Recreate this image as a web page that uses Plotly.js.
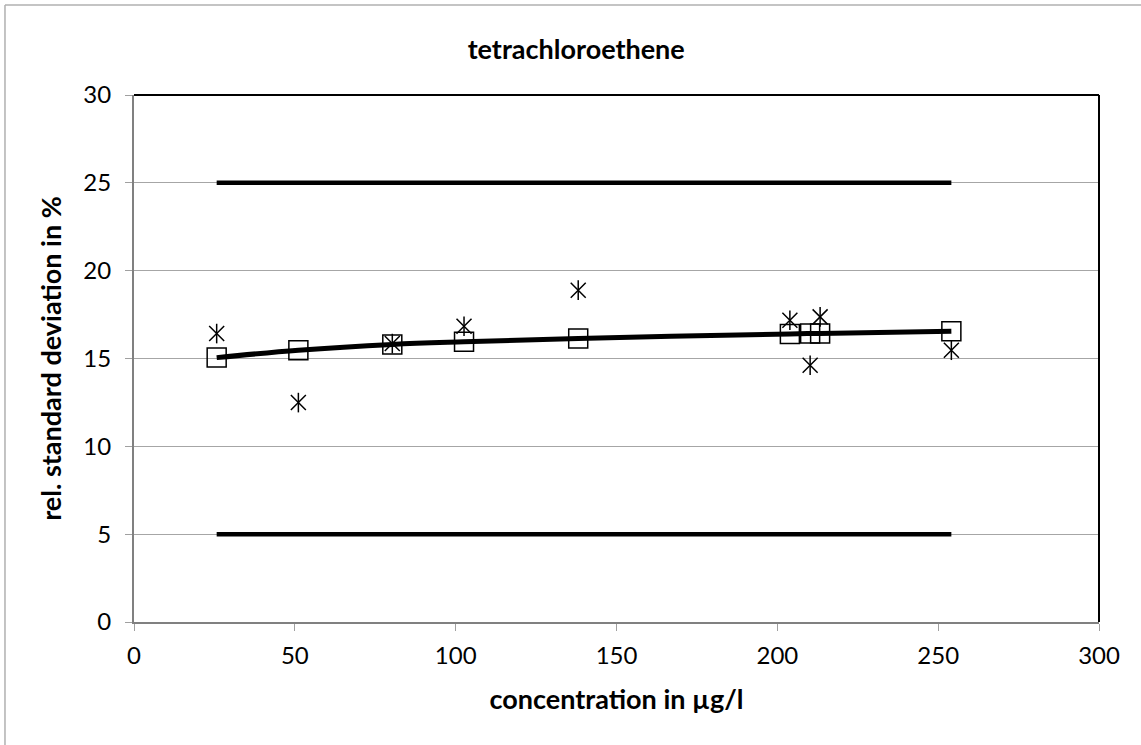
<!DOCTYPE html>
<html>
<head>
<meta charset="utf-8">
<script src="https://cdn.plot.ly/plotly-3.0.1.min.js"></script>
<style>html,body{margin:0;padding:0;background:#fff;}#chart{width:1141px;height:745px;}</style>
</head>
<body>
<div id="chart"></div>
<script>
// Data
const concentration = [25.7, 51.1, 80.3, 102.6, 138.1, 203.9, 210.2, 213.3, 254.1];
const rsdFit = [15.05, 15.47, 15.80, 15.95, 16.14, 16.40, 16.42, 16.43, 16.55];
const rsdMeasured = [16.42, 12.49, 15.85, 16.84, 18.89, 17.18, 14.62, 17.37, 15.47];
const limitX = [25.7, 254.1];
const upperLimit = [25, 25];
const lowerLimit = [5, 5];
const xTicks = [0, 50, 100, 150, 200, 250, 300];
const yTicks = [0, 5, 10, 15, 20, 25, 30];

const FONT = 'Lato, "Open Sans", sans-serif';

const traces = [
  {x: limitX, y: upperLimit, mode: 'lines', line: {color: '#000', width: 4.5}, showlegend: false, hoverinfo: 'skip'},
  {x: limitX, y: lowerLimit, mode: 'lines', line: {color: '#000', width: 4.5}, showlegend: false, hoverinfo: 'skip'},
  {x: concentration, y: rsdMeasured, mode: 'markers', showlegend: false,
   marker: {symbol: 'x-thin-open', size: 15, color: '#000', line: {color: '#000', width: 1.5}}},
  {x: concentration, y: rsdMeasured, mode: 'markers', showlegend: false, hoverinfo: 'skip',
   marker: {symbol: 'line-ns-open', size: 14, color: '#000', line: {color: '#000', width: 1.5}}},
  {x: concentration, y: rsdFit, mode: 'markers', showlegend: false,
   marker: {symbol: 'square-open', size: 19, color: '#000', line: {color: '#000', width: 1.5}}},
  {x: concentration, y: rsdFit, mode: 'lines', showlegend: false, hoverinfo: 'skip',
   line: {color: '#000', width: 5, shape: 'spline'}}
];

const layout = {
  width: 1141, height: 745,
  margin: {l: 134, r: 42, t: 95, b: 123.3},
  paper_bgcolor: '#fff', plot_bgcolor: '#fff',
  font: {family: FONT, color: '#000'},
  title: {text: '<b>tetrachloroethene</b>', font: {family: FONT, size: 27, color: '#000'},
          x: 0.505, xref: 'container', y: 0.933, yref: 'container', yanchor: 'middle'},
  xaxis: {
    range: [0, 300], tickvals: xTicks, ticktext: xTicks.map(String),
    showgrid: false, zeroline: false,
    showline: true, linecolor: '#808080', linewidth: 2,
    ticks: 'outside', ticklen: 7, tickwidth: 1, tickcolor: '#a0a0a0',
    ticklabelstandoff: 4,
    tickfont: {family: FONT, size: 24, color: '#000'},
    title: {text: '<b>concentration in µg/l</b>', font: {family: FONT, size: 27, color: '#000'}, standoff: 22}
  },
  yaxis: {
    range: [0, 30], tickvals: yTicks, ticktext: yTicks.map(String),
    showgrid: true, gridcolor: '#a6a6a6', gridwidth: 1, zeroline: false,
    showline: true, linecolor: '#808080', linewidth: 2,
    ticks: 'outside', ticklen: 7, tickwidth: 1, tickcolor: '#a0a0a0',
    ticklabelstandoff: 9,
    tickfont: {family: FONT, size: 24, color: '#000'},
    title: {text: '<b>rel. standard deviation in %</b>', font: {family: FONT, size: 27, color: '#000'}, standoff: 14}
  },
  shapes: [
    {type: 'line', xref: 'paper', yref: 'paper', x0: 0, x1: 1, y0: 1, y1: 1, line: {color: '#000', width: 2}},
    {type: 'line', xref: 'paper', yref: 'paper', x0: 1, x1: 1, y0: 0, y1: 1, line: {color: '#000', width: 2}},
    {type: 'line', xref: 'paper', yref: 'paper', x0: -0.1337, x1: 1.05, y0: 1.1709, y1: 1.1709, line: {color: '#b0b0b0', width: 1.5}},
    {type: 'line', xref: 'paper', yref: 'paper', x0: -0.1337, x1: -0.1337, y0: -0.25, y1: 1.1709, line: {color: '#b0b0b0', width: 1.5}}
  ]
};

Plotly.newPlot('chart', traces, layout, {displayModeBar: false, staticPlot: true});
</script>
</body>
</html>
